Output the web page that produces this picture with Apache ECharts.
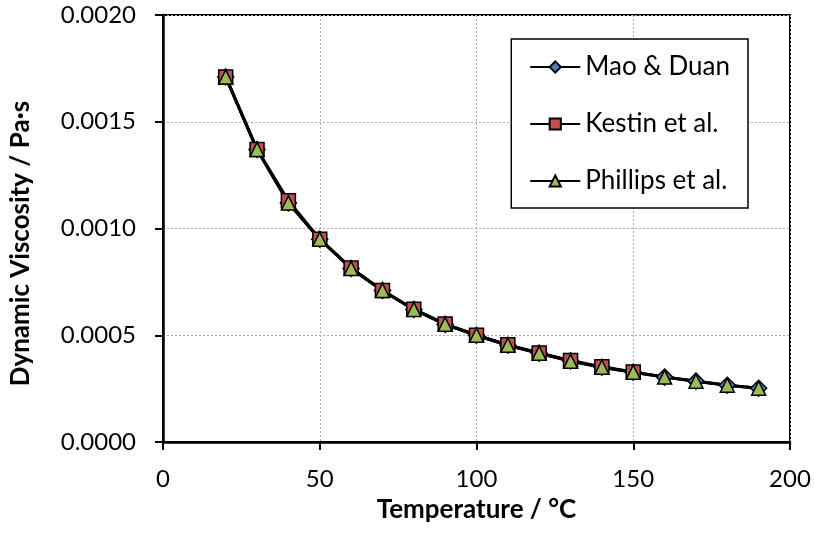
<!DOCTYPE html>
<html>
<head>
<meta charset="utf-8">
<script src="https://cdn.jsdelivr.net/npm/echarts@6/dist/echarts.min.js"></script>
<style>
  body { margin: 0; background: #fff; }
  #chart { width: 814px; height: 537px; }
</style>
</head>
<body>
<div id="chart"></div>
<script>
const temps = [20, 30, 40, 50, 60, 70, 80, 90, 100, 110, 120, 130, 140, 150, 160, 170, 180, 190];
const maoDuan = [0.00171, 0.00137, 0.00112, 0.00095, 0.000813, 0.00071, 0.000621, 0.000551, 0.0005, 0.000453, 0.000416, 0.00038, 0.00035, 0.000327, 0.000304, 0.000285, 0.000266, 0.000252];
const kestinTemps = [20, 30, 40, 50, 60, 70, 80, 90, 100, 110, 120, 130, 140, 150];
const kestin = [0.00171, 0.00137, 0.00113, 0.00095, 0.000815, 0.00071, 0.000622, 0.000553, 0.0005, 0.000455, 0.000417, 0.000382, 0.000352, 0.000328];
const phillips = [0.00171, 0.00137, 0.00112, 0.00095, 0.000813, 0.00071, 0.000621, 0.000551, 0.0005, 0.000453, 0.000416, 0.000378, 0.00035, 0.000327, 0.000304, 0.000285, 0.000266, 0.000252];

const font = "Lato, 'Open Sans', sans-serif";

function pairs(xs, ys) {
  return xs.map((x, i) => [x, ys[i]]);
}

function makeSeries(name, data, symbol, color, size) {
  return {
    name: name,
    type: "line",
    data: data,
    symbol: symbol,
    symbolSize: size,
    lineStyle: { color: "#000", width: 3 },
    itemStyle: { color: color, borderColor: "#000", borderWidth: 1.5 },
    emphasis: { disabled: true },
  };
}

let chart = echarts.init(document.getElementById("chart"));
chart.setOption({
  animation: false,
  grid: {
    left: 162,
    right: 24,
    top: 15,
    bottom: 95,
    show: true,
    borderColor: "#000",
    borderWidth: 2,
  },
  legend: {
    orient: "vertical",
    right: 66,
    top: 39,
    padding: [15, 18, 14, 18],
    itemGap: 31,
    itemWidth: 50,
    itemHeight: 14,
    borderColor: "#000",
    borderWidth: 1.5,
    backgroundColor: "#fff",
    textStyle: { fontFamily: font, fontSize: 26, color: "#000" },
    data: ["Mao & Duan", "Kestin et al.", "Phillips et al."],
  },
  xAxis: {
    type: "value",
    min: 0,
    max: 200,
    interval: 50,
    name: "Temperature / °C",
    nameLocation: "middle",
    nameGap: 55,
    nameTextStyle: { fontFamily: font, fontSize: 26, fontWeight: "bold", color: "#000" },
    axisLine: { lineStyle: { color: "#000", width: 2.5 } },
    axisTick: { show: true, length: 8, lineStyle: { color: "#000", width: 2 } },
    axisLabel: { fontFamily: font, fontSize: 24, color: "#000", margin: 25 },
    splitLine: { show: true, lineStyle: { color: "#aaa", type: [2, 2], width: 1 } },
  },
  yAxis: {
    type: "value",
    min: 0,
    max: 0.002,
    interval: 0.0005,
    name: "Dynamic Viscosity / Pa·s",
    nameLocation: "middle",
    nameGap: 129,
    nameTextStyle: {
      fontFamily: font,
      fontSize: 26,
      fontWeight: "bold",
      color: "#000",
      padding: [0, 30, 0, 0],
    },
    axisLine: { show: true, lineStyle: { color: "#000", width: 2.5 } },
    axisTick: { show: true, length: 8, lineStyle: { color: "#000", width: 2 } },
    axisLabel: {
      fontFamily: font,
      fontSize: 24,
      color: "#000",
      margin: 27,
      formatter: (v) => v.toFixed(4),
    },
    splitLine: { show: true, lineStyle: { color: "#aaa", type: [2, 2], width: 1 } },
  },
  series: [
    makeSeries("Mao & Duan", pairs(temps, maoDuan), "diamond", "#4F81BD", 16),
    makeSeries("Kestin et al.", pairs(kestinTemps, kestin), "rect", "#C0504D", 14),
    makeSeries("Phillips et al.", pairs(temps, phillips), "triangle", "#9BBB59", 14),
  ],
});
</script>
</body>
</html>
